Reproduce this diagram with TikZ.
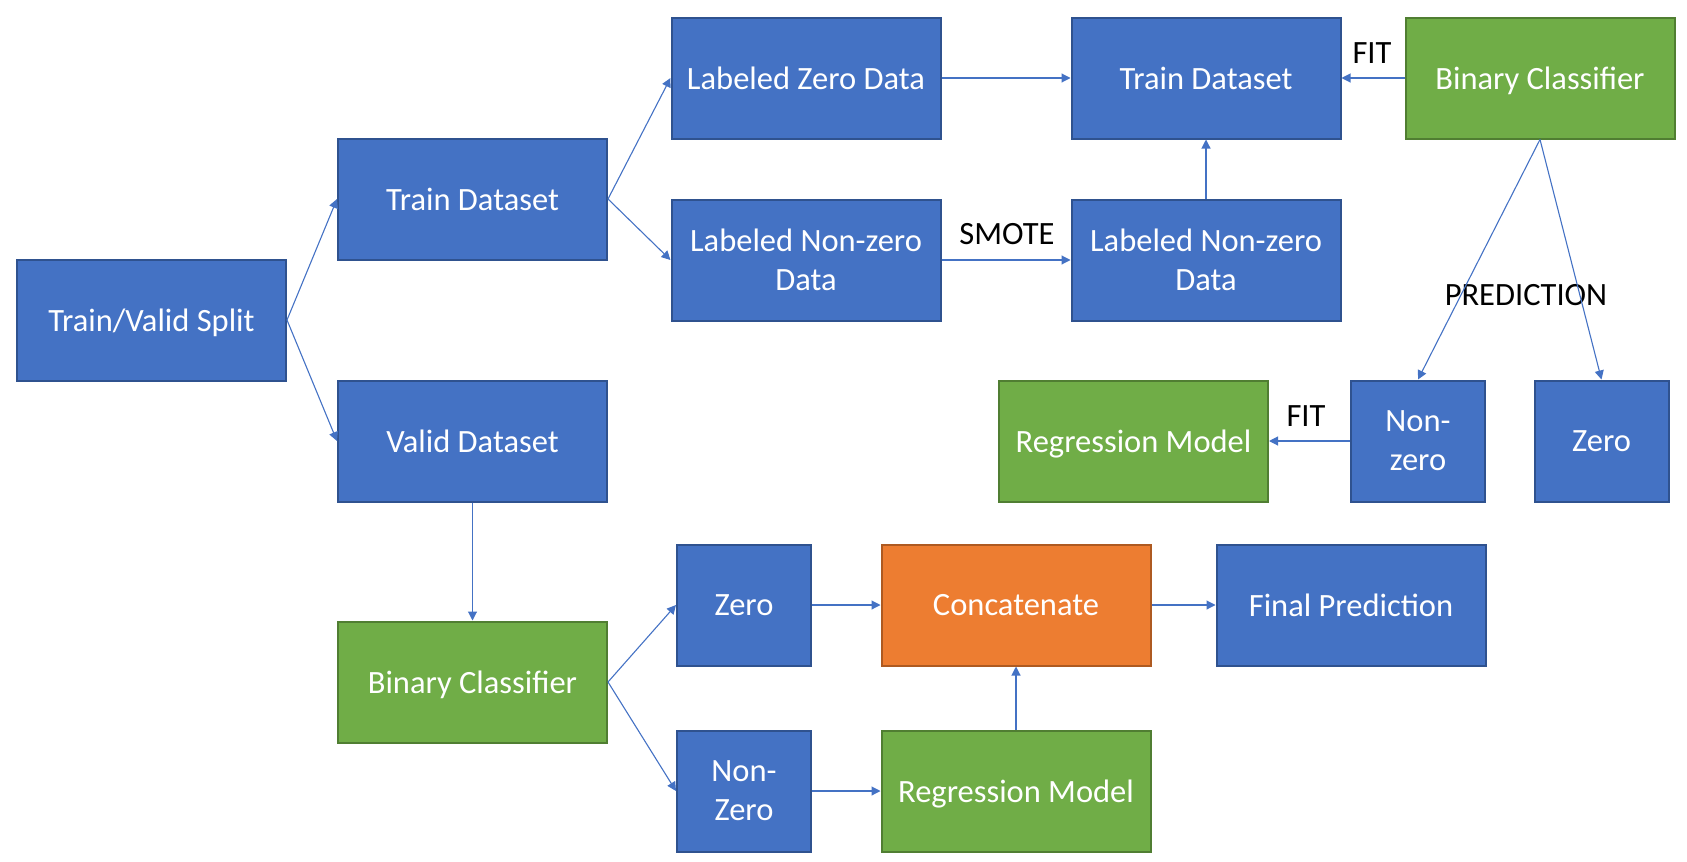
\documentclass[tikz,border=0pt]{standalone}
\usepackage{fontspec}
\setmainfont{Carlito}
\usetikzlibrary{arrows.meta}
\definecolor{bfill}{HTML}{4472C4}
\definecolor{bdraw}{HTML}{2F528F}
\definecolor{gfill}{HTML}{70AD47}
\definecolor{gdraw}{HTML}{507E32}
\definecolor{ofill}{HTML}{ED7D31}
\definecolor{odraw}{HTML}{AE5A21}
\definecolor{lcol}{HTML}{4472C4}
\tikzset{
  box/.style={rectangle, inner sep=0pt, line width=2pt, text=white, align=center,
    font=\fontsize{32.5}{39}\selectfont, minimum height=121pt, text depth=0pt},
  wide/.style={minimum width=269pt},
  narrow/.style={minimum width=134pt},
  bluebox/.style={box, fill=bfill, draw=bdraw},
  greenbox/.style={box, fill=gfill, draw=gdraw},
  orangebox/.style={box, fill=ofill, draw=odraw},
  conn/.style={draw=lcol, line width=1.1pt, -{Triangle[width=9pt,length=9pt]}},
  lbl/.style={text=black, font=\fontsize{32.5}{39}\selectfont, inner sep=0pt}
}
\begin{document}
\begin{tikzpicture}[x=1pt,y=-1pt]
\useasboundingbox (0,0) rectangle (1687,862);
% nodes
\node[bluebox,wide] (split) at (151.5,320) {Train/Valid Split};
\node[bluebox,wide] (trainL) at (472.5,199) {Train Dataset};
\node[bluebox,wide] (valid) at (472.5,441) {Valid Dataset};
\node[bluebox,wide] (lzero) at (806,78) {Labeled Zero Data};
\node[bluebox,wide] (lnz1) at (806,260) {Labeled Non-zero\\Data};
\node[bluebox,wide] (traintop) at (1206,78) {Train Dataset};
\node[bluebox,wide] (lnz2) at (1206,260) {Labeled Non-zero\\Data};
\node[greenbox,wide] (bc1) at (1540,78) {Binary Classifier};
\node[greenbox,wide] (reg1) at (1133.5,441) {Regression Model};
\node[bluebox,narrow] (nz1) at (1418,441) {Non-\\zero};
\node[bluebox,narrow] (zero1) at (1601.5,441) {Zero};
\node[greenbox,wide] (bc2) at (472.5,682) {Binary Classifier};
\node[bluebox,narrow] (zero2) at (744,605) {Zero};
\node[bluebox,narrow] (nz2) at (744,791) {Non-\\Zero};
\node[orangebox,wide] (concat) at (1016,605) {Concatenate};
\node[bluebox,wide] (final) at (1351,605) {Final Prediction};
\node[greenbox,wide] (reg2) at (1016,791) {Regression Model};
% labels
\node[lbl] (fit1) at (1372,53) {FIT};
\node[lbl] (smote) at (1007,234) {SMOTE};
\node[lbl] (pred) at (1526,295) {PREDICTION};
\node[lbl] (fit2) at (1306,416) {FIT};
% connectors
\draw[conn] (split.east) -- (trainL.west);
\draw[conn] (split.east) -- (valid.west);
\draw[conn] (trainL.east) -- (lzero.west);
\draw[conn] (trainL.east) -- (lnz1.west);
\draw[conn] (lzero.east) -- (traintop.west);
\draw[conn] (lnz1.east) -- (lnz2.west);
\draw[conn] (lnz2.north) -- (traintop.south);
\draw[conn] (bc1.west) -- (traintop.east);
\draw[conn] (bc1.south) -- (nz1.north);
\draw[conn] (bc1.south) -- (zero1.north);
\draw[conn] (nz1.west) -- (reg1.east);
\draw[conn] (valid.south) -- (bc2.north);
\draw[conn] (bc2.east) -- (zero2.west);
\draw[conn] (bc2.east) -- (nz2.west);
\draw[conn] (zero2.east) -- (concat.west);
\draw[conn] (nz2.east) -- (reg2.west);
\draw[conn] (reg2.north) -- (concat.south);
\draw[conn] (concat.east) -- (final.west);
\end{tikzpicture}
\end{document}
